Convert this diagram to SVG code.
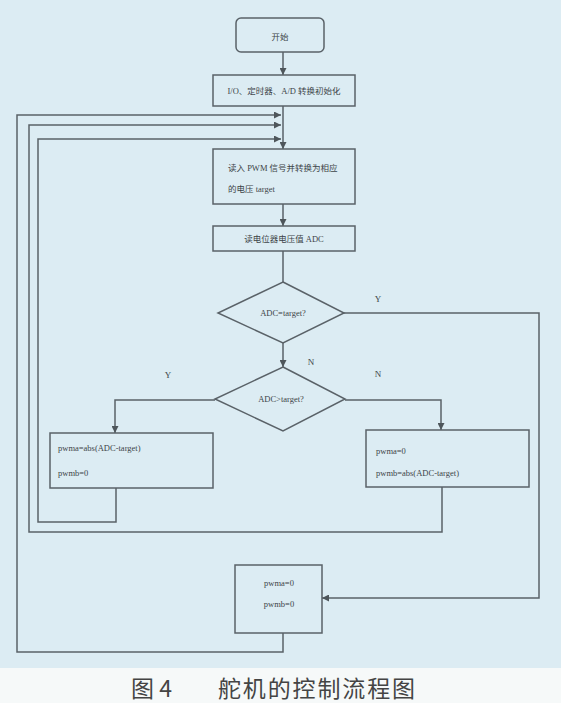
<svg xmlns="http://www.w3.org/2000/svg" width="561" height="703" viewBox="0 0 561 703">
<style>
.box{fill:none;stroke:#5a6268;stroke-width:1.5}
.ln{fill:none;stroke:#5a6268;stroke-width:1.5}
.t{font-family:"Liberation Serif","Noto Sans CJK SC",serif;font-size:8.5px;fill:#3d4448}
.lbl{font-family:"Liberation Serif",serif;font-size:9px;fill:#3d4448}
.cap{font-family:"Noto Sans CJK SC",sans-serif;font-size:23px;fill:#444}
</style>
<defs>
<marker id="ah" viewBox="0 0 10 10" refX="10" refY="5" markerWidth="7" markerHeight="7" markerUnits="userSpaceOnUse" orient="auto">
<path d="M0 0 L10 5 L0 10 Z" fill="#4e565b"/>
</marker>
</defs>
<rect x="0" y="0" width="561" height="668" fill="#dcecf3"/>
<rect x="0" y="668" width="561" height="35" fill="#f6f9f9"/>
<g id="connectors">
<path class="ln" d="M283 52 V75" marker-end="url(#ah)"/>
<path class="ln" d="M283 106 V149" marker-end="url(#ah)"/>
<path class="ln" d="M283 204 V226" marker-end="url(#ah)"/>
<path class="ln" d="M283 251 V282"/>
<path class="ln" d="M283 343 V367" marker-end="url(#ah)"/>
<path class="ln" d="M344 313 H539 V598 H322" marker-end="url(#ah)"/>
<path class="ln" d="M215 400 H115 V433" marker-end="url(#ah)"/>
<path class="ln" d="M345 400 H441 V430" marker-end="url(#ah)"/>
<path class="ln" d="M116 488 V522 H38 V139 H281" marker-end="url(#ah)"/>
<path class="ln" d="M442 487 V532 H29 V125 H281" marker-end="url(#ah)"/>
<path class="ln" d="M283 633 V652 H17 V115 H281" marker-end="url(#ah)"/>
</g>
<g id="start">
<rect class="box" x="236" y="18" width="88" height="34" rx="5"/>
<text class="t" x="280" y="40" text-anchor="middle">开始</text>
</g>
<g id="init">
<rect class="box" x="213" y="75" width="142" height="31"/>
<text class="t" x="284" y="94" text-anchor="middle">I/O、定时器、A/D 转换初始化</text>
</g>
<g id="read">
<rect class="box" x="213" y="149" width="142" height="55"/>
<text class="t" x="228" y="171">读入 PWM 信号并转换为相应</text>
<text class="t" x="228" y="192">的电压 target</text>
</g>
<g id="adc">
<rect class="box" x="213" y="226" width="142" height="25"/>
<text class="t" x="284" y="242" text-anchor="middle">读电位器电压值 ADC</text>
</g>
<g id="d1">
<polygon class="box" points="283,282 344,313 283,343 218,313"/>
<text class="t" x="283" y="316" text-anchor="middle">ADC=target?</text>
</g>
<g id="d2">
<polygon class="box" points="283,367 345,399 283,431 215,399"/>
<text class="t" x="281" y="402" text-anchor="middle">ADC&gt;target?</text>
</g>
<g id="left">
<rect class="box" x="50" y="433" width="163" height="55"/>
<text class="t" x="58" y="451">pwma=abs(ADC-target)</text>
<text class="t" x="58" y="476">pwmb=0</text>
</g>
<g id="right">
<rect class="box" x="366" y="430" width="163" height="57"/>
<text class="t" x="376" y="454">pwma=0</text>
<text class="t" x="376" y="476">pwmb=abs(ADC-target)</text>
</g>
<g id="stop">
<rect class="box" x="235" y="565" width="87" height="68"/>
<text class="t" x="279" y="586" text-anchor="middle">pwma=0</text>
<text class="t" x="279" y="607" text-anchor="middle">pwmb=0</text>
</g>
<g id="labels">
<text class="lbl" x="378" y="302" text-anchor="middle">Y</text>
<text class="lbl" x="311" y="365" text-anchor="middle">N</text>
<text class="lbl" x="378" y="377" text-anchor="middle">N</text>
<text class="lbl" x="168" y="378" text-anchor="middle">Y</text>
</g>
<text class="cap" x="131" y="697">图 4</text>
<text class="cap" x="218" y="697" textLength="197">舵机的控制流程图</text>
</svg>
